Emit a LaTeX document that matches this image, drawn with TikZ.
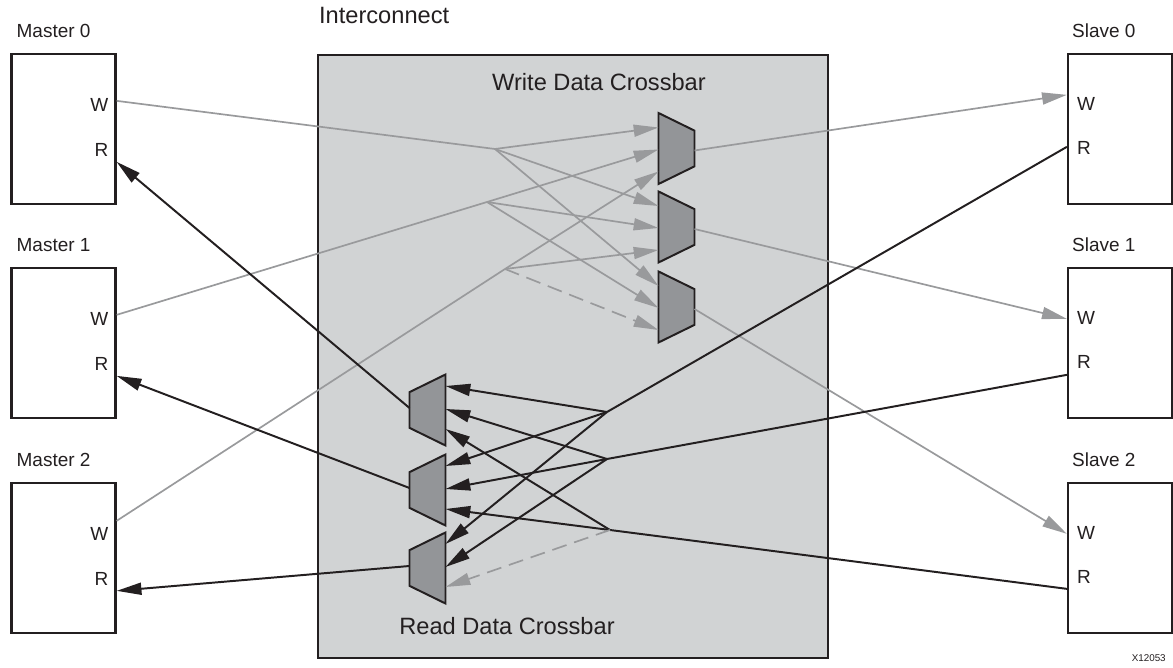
\documentclass[tikz,border=0pt]{standalone}
\usepackage{fontspec}
\setmainfont{Liberation Sans}
\usetikzlibrary{shapes.geometric,arrows.meta,calc}
\definecolor{icgray}{HTML}{D1D3D4}
\definecolor{muxgray}{HTML}{939598}
\definecolor{wiregray}{HTML}{999A9C}
\definecolor{inkblack}{HTML}{231F20}

\begin{document}
\begin{tikzpicture}[
    x=0.025cm, y=-0.025cm,
    unit/.style={rectangle, draw=inkblack, line width=1.6pt, fill=white, minimum width=2.6cm, minimum height=3.75cm, inner sep=0pt},
    icbox/.style={rectangle, draw=inkblack, line width=1.5pt, fill=icgray, minimum width=12.75cm, minimum height=15.075cm, inner sep=0pt},
    mux/.style={trapezium, trapezium stretches=true, trapezium angle=63.7, draw=inkblack, line width=1.4pt, fill=muxgray, minimum width=1.775cm, minimum height=0.9cm, inner sep=1pt},
    wmux/.style={mux, rotate=-90},
    rmux/.style={mux, rotate=90},
    lbl/.style={font=\fontsize{13.5}{16}\selectfont, text=inkblack, inner sep=0pt},
    biglbl/.style={font=\fontsize{16.8}{20}\selectfont, text=inkblack, inner sep=0pt},
    wline/.style={draw=wiregray, line width=1.2pt},
    rline/.style={draw=inkblack, line width=1.4pt},
    tip/.style={-{Triangle[length=6.2mm, width=3mm]}},
    warrow/.style={wline, tip},
    rarrow/.style={rline, tip},
    dashwire/.style={dash pattern=on 3.75mm off 2mm}
]
\useasboundingbox (0,0) rectangle (1173,668);

% Interconnect
\node[icbox] (IC) at (573,356.5) {};
\node[biglbl, anchor=base west] at ($(IC.north west)+(2,-30)$) {Interconnect};
\node[biglbl, anchor=base] at (599,91) {Write Data Crossbar};
\node[biglbl, anchor=base] at (507,635) {Read Data Crossbar};

% Masters and slaves
\foreach \i/\y/\w/\sw/\sr in {0/129/48/42/94, 1/343/48/52/108, 2/558/39/52/107} {
    \node[unit] (M\i) at (63.5,\y) {};
    \node[lbl, anchor=base west] at ($(M\i.north west)+(6,-15)$) {Master \i};
    \node[lbl, anchor=base east] at ($(M\i.north east)+(-8,59)$) {W};
    \node[lbl, anchor=base east] at ($(M\i.north east)+(-8,104)$) {R};
    \coordinate (M\i-w) at ($(M\i.north east)+(0,\w)$);
    \coordinate (M\i-r) at ($(M\i.north east)+(0,109)$);
    \node[unit] (S\i) at (1120,\y) {};
    \node[lbl, anchor=base west] at ($(S\i.north west)+(5,-15)$) {Slave \i};
    \node[lbl, anchor=base west] at ($(S\i.north west)+(10,58)$) {W};
    \node[lbl, anchor=base west] at ($(S\i.north west)+(10,102)$) {R};
    \coordinate (S\i-w) at ($(S\i.north west)+(0,\sw)$);
    \coordinate (S\i-r) at ($(S\i.north west)+(0,\sr)$);
}

% Crossbar muxes
\foreach \k/\wy/\ry in {0/148.5/410, 1/227/490, 2/307/568} {
    \node[wmux] (WM\k) at (676.5,\wy) {};
    \coordinate (WM\k-0) at ($(WM\k)+(-18,-21)$);
    \coordinate (WM\k-1) at ($(WM\k)+(-18,1)$);
    \coordinate (WM\k-2) at ($(WM\k)+(-18,23)$);
    \coordinate (WM\k-o) at ($(WM\k)+(18,2)$);
    \node[rmux] (RM\k) at (427.5,\ry) {};
    \coordinate (RM\k-0) at ($(RM\k)+(18,-24)$);
    \coordinate (RM\k-1) at ($(RM\k)+(18,-1)$);
    \coordinate (RM\k-2) at ($(RM\k)+(18,19)$);
    \coordinate (RM\k-o) at ($(RM\k)+(-18,-2)$);
}

% Branch points
\coordinate (WB0) at (495,149);
\coordinate (WB1) at (487,202);
\coordinate (WB2) at (505,269);
\coordinate (RB0) at (607,412);
\coordinate (RB1) at (607,459);
\coordinate (RB2) at (610,530);

% Write connections
\foreach \j in {0,1,2} {
    \draw[wline] (M\j-w) -- (WB\j);
    \draw[warrow] (WM\j-o) -- (S\j-w);
}
\foreach \j/\k in {0/0,0/1,0/2,1/0,1/1,1/2,2/0,2/1}
    \draw[warrow] (WB\j) -- (WM\k-\j);
\draw[warrow, dashwire] (WB2) -- (WM2-2);

% Read connections
\foreach \j in {0,1,2} {
    \draw[rline] (S\j-r) -- (RB\j);
    \draw[rarrow] (RM\j-o) -- (M\j-r);
}
\foreach \j/\k in {0/0,0/1,0/2,1/0,1/1,1/2,2/0,2/1}
    \draw[rarrow] (RB\j) -- (RM\k-\j);
\draw[warrow, dashwire] (RB2) -- (RM2-2);

\node[font=\fontsize{7}{8}\selectfont, text=inkblack, inner sep=0pt, anchor=base east] at (1166,661) {X12053};

\end{tikzpicture}
\end{document}
